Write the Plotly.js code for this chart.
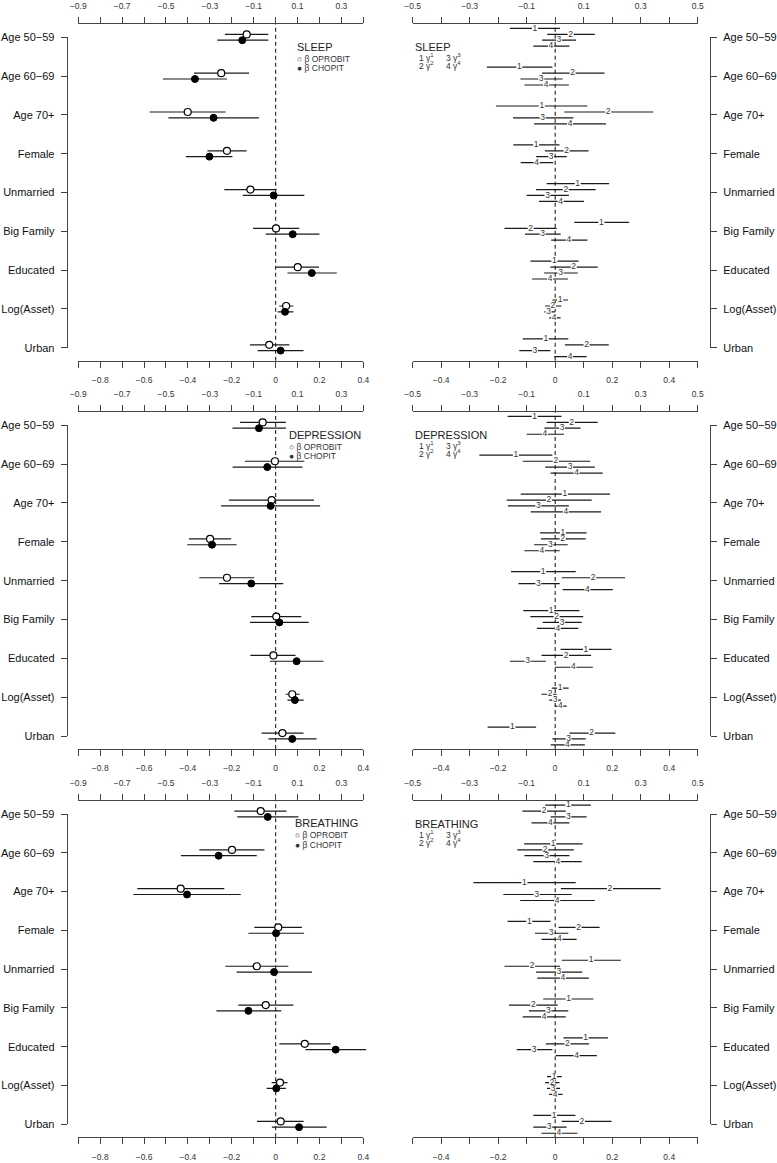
<!DOCTYPE html>
<html>
<head>
<meta charset="utf-8">
<script src="https://cdn.plot.ly/plotly-3.0.1.min.js"></script>
<style>html,body{margin:0;padding:0;background:#fff;}#chart{width:777px;height:1163px;}</style>
</head>
<body>
<div id="chart"></div>
<script>
// ---------------- DATA ----------------
const categories = ['Age 50\u221259','Age 60\u221269','Age 70+','Female','Unmarried','Big Family','Educated','Log(Asset)','Urban'];
const outcomes = ['SLEEP','DEPRESSION','BREATHING'];

// tick values / labels (top axis = odd tenths, bottom axis = even tenths)
const leftTopTickVals    = [-0.9,-0.7,-0.5,-0.3,-0.1,0.1,0.3];
const leftTopLabels      = ['\u22120.9','\u22120.7','\u22120.5','\u22120.3','\u22120.1','0.1','0.3'];
const leftBottomTickVals = [-0.8,-0.6,-0.4,-0.2,0,0.2,0.4];
const leftBottomLabels   = ['\u22120.8','\u22120.6','\u22120.4','\u22120.2','0','0.2','0.4'];
const rightTopTickVals    = [-0.5,-0.3,-0.1,0.1,0.3,0.5];
const rightTopLabels      = ['\u22120.5','\u22120.3','\u22120.1','0.1','0.3','0.5'];
const rightBottomTickVals = [-0.4,-0.2,0,0.2,0.4];
const rightBottomLabels   = ['\u22120.4','\u22120.2','0','0.2','0.4'];

// SLEEP – beta estimates
const sleepOprobitEst = [-0.132,-0.248,-0.401,-0.222,-0.115,0.002,0.101,0.048,-0.029];
const sleepOprobitLo  = [-0.231,-0.372,-0.574,-0.311,-0.234,-0.103,0.002,0.017,-0.117];
const sleepOprobitHi  = [-0.033,-0.121,-0.228,-0.132,0.005,0.108,0.198,0.081,0.063];
const sleepChopitEst  = [-0.152,-0.368,-0.283,-0.302,-0.009,0.078,0.165,0.043,0.023];
const sleepChopitLo   = [-0.266,-0.514,-0.489,-0.409,-0.150,-0.045,0.054,0.009,-0.082];
const sleepChopitHi   = [-0.033,-0.222,-0.076,-0.197,0.131,0.200,0.279,0.081,0.127];
// SLEEP – gamma thresholds
const sleepG1Est = [-0.071,-0.126,-0.047,-0.067,0.079,0.162,-0.003,0.017,-0.033];
const sleepG1Lo  = [-0.159,-0.240,-0.208,-0.147,-0.030,0.067,-0.087,-0.010,-0.114];
const sleepG1Hi  = [0.017,-0.010,0.113,0.015,0.189,0.259,0.082,0.045,0.046];
const sleepG2Est = [0.054,0.061,0.186,0.040,0.037,-0.086,0.065,-0.008,0.110];
const sleepG2Lo  = [-0.028,-0.046,0.032,-0.036,-0.067,-0.178,-0.017,-0.035,0.034];
const sleepG2Hi  = [0.139,0.173,0.344,0.117,0.142,0.005,0.149,0.022,0.188];
const sleepG3Est = [0.013,-0.049,-0.044,-0.014,-0.027,-0.044,0.019,-0.023,-0.071];
const sleepG3Lo  = [-0.046,-0.122,-0.148,-0.067,-0.100,-0.106,-0.039,-0.038,-0.126];
const sleepG3Hi  = [0.073,0.026,0.064,0.040,0.048,0.019,0.079,-0.001,-0.017];
const sleepG4Est = [-0.015,-0.032,0.052,-0.065,0.019,0.048,-0.018,-0.004,0.052];
const sleepG4Lo  = [-0.077,-0.108,-0.074,-0.121,-0.057,-0.014,-0.081,-0.021,-0.004];
const sleepG4Hi  = [0.050,0.048,0.178,-0.007,0.101,0.113,0.045,0.019,0.110];

// DEPRESSION – beta estimates
const depOprobitEst = [-0.059,-0.003,-0.018,-0.299,-0.222,0.003,-0.010,0.076,0.031];
const depOprobitLo  = [-0.162,-0.140,-0.213,-0.395,-0.348,-0.111,-0.115,0.046,-0.064];
const depOprobitHi  = [0.047,0.131,0.175,-0.203,-0.097,0.117,0.091,0.110,0.127];
const depChopitEst  = [-0.076,-0.038,-0.023,-0.290,-0.111,0.017,0.096,0.088,0.076];
const depChopitLo   = [-0.197,-0.196,-0.249,-0.403,-0.258,-0.117,-0.026,0.054,-0.033];
const depChopitHi   = [0.047,0.123,0.203,-0.178,0.035,0.151,0.218,0.128,0.187];
// DEPRESSION – gamma thresholds
const depG1Est = [-0.072,-0.138,0.034,0.027,-0.042,-0.014,0.108,0.017,-0.150];
const depG1Lo  = [-0.167,-0.266,-0.121,-0.053,-0.155,-0.112,0.019,-0.012,-0.237];
const depG1Hi  = [0.022,-0.010,0.192,0.110,0.072,0.085,0.198,0.047,-0.067];
const depG2Est = [0.058,0.002,-0.022,0.026,0.133,0.005,0.038,-0.018,0.128];
const depG2Lo  = [-0.030,-0.114,-0.170,-0.050,0.023,-0.087,-0.048,-0.048,0.050];
const depG2Hi  = [0.149,0.123,0.128,0.107,0.245,0.098,0.126,0.005,0.211];
const depG3Est = [0.024,0.052,-0.059,-0.017,-0.059,0.024,-0.097,0.000,0.047];
const depG3Lo  = [-0.038,-0.035,-0.166,-0.074,-0.129,-0.044,-0.159,-0.021,-0.010];
const depG3Hi  = [0.089,0.139,0.048,0.044,0.016,0.093,-0.033,0.020,0.107];
const depG4Est = [-0.036,0.075,0.037,-0.047,0.113,0.009,0.064,0.018,0.043];
const depG4Lo  = [-0.100,-0.016,-0.086,-0.108,0.026,-0.064,-0.001,-0.001,-0.016];
const depG4Hi  = [0.031,0.167,0.161,0.016,0.202,0.081,0.132,0.040,0.104];

// BREATHING – beta estimates
const brOprobitEst = [-0.068,-0.199,-0.433,0.012,-0.086,-0.045,0.133,0.020,0.023];
const brOprobitLo  = [-0.188,-0.348,-0.631,-0.097,-0.229,-0.170,0.017,-0.018,-0.085];
const brOprobitHi  = [0.050,-0.051,-0.234,0.120,0.058,0.081,0.251,0.054,0.128];
const brChopitEst  = [-0.036,-0.260,-0.404,0.002,-0.007,-0.124,0.274,0.003,0.107];
const brChopitLo   = [-0.175,-0.432,-0.649,-0.124,-0.178,-0.270,0.136,-0.041,-0.017];
const brChopitHi   = [0.104,-0.086,-0.159,0.130,0.166,0.026,0.413,0.047,0.233];
// BREATHING – gamma thresholds
const brG1Est = [0.046,-0.007,-0.108,-0.091,0.126,0.047,0.107,-0.004,-0.004];
const brG1Lo  = [-0.035,-0.109,-0.287,-0.167,0.023,-0.042,0.029,-0.029,-0.077];
const brG1Hi  = [0.125,0.096,0.072,-0.016,0.230,0.134,0.185,0.023,0.071];
const brG2Est = [-0.039,-0.035,0.192,0.082,-0.081,-0.077,0.043,-0.011,0.094];
const brG2Lo  = [-0.115,-0.133,0.020,0.012,-0.178,-0.162,-0.033,-0.035,0.023];
const brG2Hi  = [0.037,0.065,0.370,0.156,0.017,0.009,0.119,0.015,0.198];
const brG3Est = [0.046,-0.030,-0.065,-0.014,0.013,-0.024,-0.074,-0.007,-0.021];
const brG3Lo  = [-0.016,-0.108,-0.182,-0.071,-0.067,-0.092,-0.135,-0.029,-0.077];
const brG3Hi  = [0.110,0.050,0.058,0.046,0.095,0.046,-0.010,0.017,0.040];
const brG4Est = [-0.017,0.009,0.007,0.015,0.027,-0.039,0.075,0.000,0.013];
const brG4Lo  = [-0.083,-0.077,-0.123,-0.048,-0.063,-0.114,0.002,-0.021,-0.048];
const brG4Hi  = [0.050,0.093,0.139,0.075,0.118,0.037,0.146,0.026,0.078];

// ---------------- BUILD ----------------
const betaData = [
  {op:[sleepOprobitEst,sleepOprobitLo,sleepOprobitHi], ch:[sleepChopitEst,sleepChopitLo,sleepChopitHi]},
  {op:[depOprobitEst,depOprobitLo,depOprobitHi], ch:[depChopitEst,depChopitLo,depChopitHi]},
  {op:[brOprobitEst,brOprobitLo,brOprobitHi], ch:[brChopitEst,brChopitLo,brChopitHi]}
];
const gammaData = [
  [[sleepG1Est,sleepG1Lo,sleepG1Hi],[sleepG2Est,sleepG2Lo,sleepG2Hi],[sleepG3Est,sleepG3Lo,sleepG3Hi],[sleepG4Est,sleepG4Lo,sleepG4Hi]],
  [[depG1Est,depG1Lo,depG1Hi],[depG2Est,depG2Lo,depG2Hi],[depG3Est,depG3Lo,depG3Hi],[depG4Est,depG4Lo,depG4Hi]],
  [[brG1Est,brG1Lo,brG1Hi],[brG2Est,brG2Lo,brG2Hi],[brG3Est,brG3Lo,brG3Hi],[brG4Est,brG4Lo,brG4Hi]]
];

const FONT = 'Liberation Sans, Arial, Helvetica, sans-serif';
const W = 777, H = 1163;
const fx = v => v / W;
const fy = v => 1 - v / H;
const LINE = '#1a1a1a', AXC = '#444', TXT = '#222';

const rowsPx = [[24.3,360.7],[412.3,749],[801,1137.3]];
const catPad = 13;
const panels = {
  left:  {main:[66.9,374.7], mainRange:[-0.952,0.452], axis:[78.3,363.3], axRange:[-0.9,0.4],
          topV:leftTopTickVals, topT:leftTopLabels, botV:leftBottomTickVals, botT:leftBottomLabels,
          yPos:66.7, ySide:'left'},
  right: {main:[401.3,709.1], mainRange:[-0.54,0.54], axis:[412.7,697.7], axRange:[-0.5,0.5],
          topV:rightTopTickVals, topT:rightTopLabels, botV:rightBottomTickVals, botT:rightBottomLabels,
          yPos:710, ySide:'right'}
};

const yVals = categories.map((c,i) => categories.length - i);   // 9 ... 1
const layout = {
  width: W, height: H, margin:{l:0,r:0,t:0,b:0},
  paper_bgcolor:'#fff', plot_bgcolor:'rgba(0,0,0,0)', showlegend:false,
  font:{family:FONT, color:TXT}, shapes:[], annotations:[]
};
const data = [];
let xn = 0, yn = 0;
const id = (l,n) => l + (n===1 ? '' : n);
const key = (l,n) => l + 'axis' + (n===1 ? '' : n);
function dummy(xa, ya){
  data.push({type:'scatter', mode:'markers', x:[0], y:[5], xaxis:xa, yaxis:ya,
    marker:{opacity:0, size:1}, hoverinfo:'skip', showlegend:false});
}
function errs(est, lo, hi){
  return {type:'data', symmetric:false, array:hi.map((h,i)=>h-est[i]),
          arrayminus:est.map((e,i)=>e-lo[i]), width:0, thickness:1.2, color:LINE};
}

outcomes.forEach((name, r) => {
  const [top, bot] = rowsPx[r];
  ['left','right'].forEach(side => {
    const P = panels[side];
    const mx = ++xn, tx = ++xn, bx = ++xn;
    const my = ++yn, ly = ++yn;
    const MX = id('x',mx), MY = id('y',my), LY = id('y',ly), TX = id('x',tx), BX = id('x',bx);
    layout[key('x',mx)] = {domain:[fx(P.main[0]), fx(P.main[1])], range:P.mainRange, visible:false, anchor:MY, fixedrange:true};
    layout[key('y',my)] = {domain:[fy(bot), fy(top)], range:[1-catPad/38.8, 9+catPad/38.8], visible:false, anchor:MX, fixedrange:true};
    layout[key('y',ly)] = {domain:[fy(bot-catPad), fy(top+catPad)], range:[1,9], anchor:'free', position:fx(P.yPos),
      side:P.ySide, tickmode:'array', tickvals:yVals, ticktext:categories, ticks:'outside', ticklen:6, tickwidth:1,
      tickcolor:AXC, showline:true, linecolor:AXC, linewidth:1, showgrid:false, zeroline:false,
      tickfont:{size:11, color:'#111', family:FONT}, ticklabelstandoff:4, fixedrange:true};
    const axCommon = {domain:[fx(P.axis[0]), fx(P.axis[1])], range:P.axRange, anchor:MY, tickmode:'array',
      ticks:'outside', ticklen:6, tickwidth:1, tickcolor:AXC, showline:true, linecolor:AXC,
      linewidth:1, showgrid:false, zeroline:false, tickfont:{size:8.5, color:'#333', family:FONT}, fixedrange:true};
    layout[key('x',tx)] = Object.assign({}, axCommon, {side:'top', tickvals:P.topV, ticktext:P.topT,
      ticklabelstandoff:5, minor:{tickmode:'array', tickvals:P.botV, ticks:'outside', ticklen:6, tickwidth:1, tickcolor:AXC, showgrid:false}});
    layout[key('x',bx)] = Object.assign({}, axCommon, {side:'bottom', tickvals:P.botV, ticktext:P.botT,
      ticklabelstandoff:5, minor:{tickmode:'array', tickvals:P.topV, ticks:'outside', ticklen:6, tickwidth:1, tickcolor:AXC, showgrid:false}});
    dummy(TX, MY); dummy(BX, MY); dummy(MX, LY);

    // zero reference line
    layout.shapes.push({type:'line', xref:MX, yref:MY+' domain', x0:0, x1:0, y0:0, y1:1,
      line:{color:'#333', width:1.2, dash:'4px,3px'}, layer:'below'});

    if (side === 'left') {
      const B = betaData[r];
      data.push({type:'scatter', mode:'markers', xaxis:MX, yaxis:MY, name:'\u03b2 OPROBIT',
        x:B.op[0], y:yVals.map(v=>v+0.075), error_x:errs(B.op[0],B.op[1],B.op[2]),
        marker:{symbol:'circle', size:7, color:'#fff', line:{color:'#000', width:1.2}}});
      data.push({type:'scatter', mode:'markers', xaxis:MX, yaxis:MY, name:'\u03b2 CHOPIT',
        x:B.ch[0], y:yVals.map(v=>v-0.075), error_x:errs(B.ch[0],B.ch[1],B.ch[2]),
        marker:{symbol:'circle', size:7, color:'#000', line:{color:'#000', width:1}}});
      const lx = [0.088, 0.053, 0.081][r];
      layout.annotations.push({xref:MX, yref:MY, x:lx, y:8.76, text:name, showarrow:false,
        xanchor:'left', yanchor:'middle', font:{size:11, color:TXT}});
      layout.annotations.push({xref:MX, yref:MY, x:lx, y:8.45, text:'\u25cb \u03b2 OPROBIT', showarrow:false,
        xanchor:'left', yanchor:'middle', font:{size:8.5, color:'#333'}});
      layout.annotations.push({xref:MX, yref:MY, x:lx, y:8.20, text:'\u25cf \u03b2 CHOPIT', showarrow:false,
        xanchor:'left', yanchor:'middle', font:{size:8.5, color:'#333'}});
    } else {
      const offs = [-0.23, -0.075, 0.075, 0.23];
      gammaData[r].forEach((g, k) => {
        data.push({type:'scatter', mode:'markers+text', xaxis:MX, yaxis:MY, name:'\u03b3'+(k+1),
          x:g[0], y:yVals.map(v=>v-offs[k]), error_x:errs(g[0],g[1],g[2]),
          text:g[0].map(()=>String(k+1)), textposition:'middle center',
          textfont:{size:8.5, color:'#333', family:FONT},
          marker:{symbol:'square', size:6, color:'#fff', line:{width:0}}});
      });
      layout.annotations.push({xref:MX, yref:MY, x:-0.5, y:8.75, text:name, showarrow:false,
        xanchor:'left', yanchor:'middle', font:{size:11, color:TXT}});
      const items = [['1',-0.486,8.48],['3',-0.389,8.48],['2',-0.486,8.27],['4',-0.389,8.27]];
      items.forEach(([n,x,y]) => layout.annotations.push({xref:MX, yref:MY, x:x, y:y,
        text:n+' \u03b3<sup>'+n+'</sup>', showarrow:false, xanchor:'left', yanchor:'middle',
        font:{size:8.5, color:'#333'}}));
    }
  });
});

Plotly.newPlot('chart', data, layout, {staticPlot:true, displayModeBar:false});
</script>
</body>
</html>
